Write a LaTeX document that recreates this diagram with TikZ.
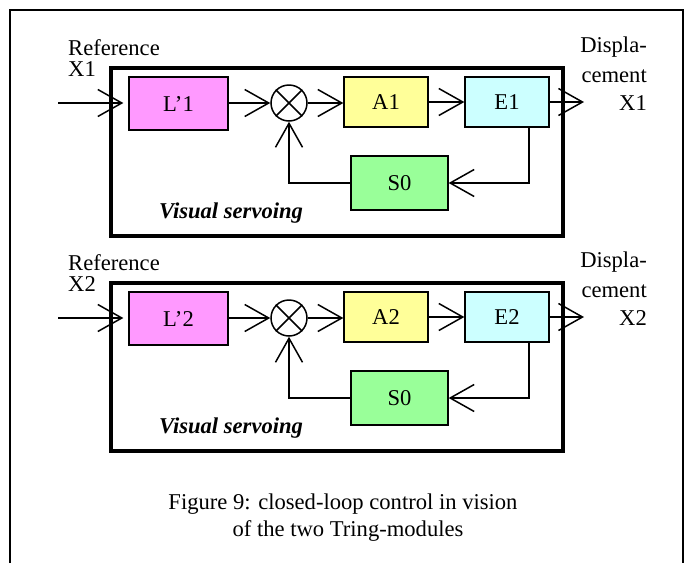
\documentclass[tikz,border=0pt]{standalone}
\usepackage{fontspec}
\setmainfont{Liberation Serif}
\usetikzlibrary{arrows.meta,calc}

\definecolor{blkL}{RGB}{255,153,255}
\definecolor{blkA}{RGB}{255,255,153}
\definecolor{blkE}{RGB}{204,255,255}
\definecolor{blkS}{RGB}{153,255,153}

\tikzset{
  txt/.style={inner sep=0pt, font=\fontsize{22.6}{27}\selectfont},
  blk/.style={draw, line width=1.3pt, inner sep=0pt, txt},
  arr/.style={line width=1.5pt, -{Straight Barb[length=24pt,width=27pt,line width=1.5pt]}},
  wire/.style={line width=1.5pt},
  frame/.style={line width=4pt},
  outer/.style={line width=2.5pt},
}

\begin{document}
\begin{tikzpicture}[x=1pt,y=-1pt]
\useasboundingbox (0,0) rectangle (688,563);

% outer figure frame, open at the bottom
\draw[outer] (10,563) |- (683,10) -- (683,563);

\foreach \dy/\n in {0/1,215/2}{
  % module frame
  \draw[frame] (111,68+\dy) rectangle (563,236+\dy);

  % blocks
  \node[blk, fill=blkL, minimum width=99pt, minimum height=53pt] (L\n) at (178.5,103.5+\dy) {L’\n};
  \node[draw, circle, line width=1.5pt, minimum size=36pt, inner sep=0pt] (X\n) at (289,103+\dy) {};
  \draw[wire] (X\n.north west) -- (X\n.south east) (X\n.north east) -- (X\n.south west);
  \node[blk, fill=blkA, minimum width=84pt, minimum height=50pt] (A\n) at (386,102+\dy) {A\n};
  \node[blk, fill=blkE, minimum width=84pt, minimum height=50pt] (E\n) at (507,102+\dy) {E\n};
  \node[blk, fill=blkS, minimum width=97pt, minimum height=54pt] (S\n) at (399.5,183+\dy) {S0};

  % signal path
  \coordinate (in\n) at (58,103+\dy);
  \coordinate (out\n) at (584,102+\dy);
  \coordinate (fb\n) at (529,183+\dy);
  \draw[arr, shorten >=5pt] (in\n) -- (L\n.west |- in\n);
  \draw[arr] (L\n.east |- X\n) -- (X\n.west);
  \draw[arr] (X\n.east) -- (A\n.west |- X\n);
  \draw[arr] (A\n.east) -- (E\n.west);
  \draw[arr] (E\n.east) -- (out\n);
  \draw[arr] (E\n.south -| fb\n) -- (fb\n) -- (S\n.east);
  \draw[arr] (S\n.west) -| (X\n.south);

  % labels
  \node[txt, anchor=base west] (ref\n) at (68,55+\dy) {Reference};
  \node[txt, anchor=base west] (rx\n) at (68,76+\dy) {X\n};
  \node[txt, anchor=base east] (dp\n) at (647,52+\dy) {Displa-};
  \node[txt, anchor=base east] (dc\n) at (647,82+\dy) {cement};
  \node[txt, anchor=base east] (dx\n) at (647,110+\dy) {X\n};
  \node[txt, anchor=base west] (vs\n) at (159,218+\dy) {\textbf{\textit{Visual servoing}}};
}

% caption
\node[txt, anchor=base] (cap1) at (343,509) {Figure 9: closed-loop control in vision};
\node[txt, anchor=base] (cap2) at (348,536) {of the two Tring-modules};
\end{tikzpicture}
\end{document}
